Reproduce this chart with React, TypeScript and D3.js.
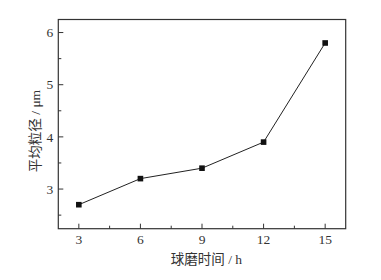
import React from "react";
import * as d3 from "d3";

const hours = [3, 6, 9, 12, 15];
const sizes = [2.7, 3.2, 3.4, 3.9, 5.8];
const xTicks = [3, 6, 9, 12, 15];
const xMinor = [4.5, 7.5, 10.5, 13.5];
const yTicks = [3, 4, 5, 6];
const yMinor = [2.5, 3.5, 4.5, 5.5];

const W = 381, H = 280;
const L = 58.3, T = 19.5, R = 345.7, B = 228.7;
const FONT = "'Liberation Serif', 'Noto Sans CJK SC', serif";

export default function App() {
  const x = d3.scaleLinear().domain([2, 16]).range([L, R]);
  const y = d3.scaleLinear().domain([2.24, 6.25]).range([B, T]);
  const line = d3.line<number>().x((_, i) => x(hours[i])).y((d) => y(d));
  const c = "#333";
  return (
    <svg width={W} height={H} style={{ position: "absolute", left: 0, top: 0, background: "#fff" }}>
      <rect x={L} y={T} width={R - L} height={B - T} fill="none" stroke={c} strokeWidth={1.2} />
      {xTicks.map((t) => (
        <g key={"xt" + t}>
          <line x1={x(t)} x2={x(t)} y1={B} y2={B - 5} stroke={c} strokeWidth={1} />
          <text x={x(t)} y={B + 15} textAnchor="middle" fontFamily={FONT} fontSize={13.5} fill={c}>{t}</text>
        </g>
      ))}
      {xMinor.map((t) => (
        <line key={"xm" + t} x1={x(t)} x2={x(t)} y1={B} y2={B - 3} stroke={c} strokeWidth={1} />
      ))}
      {yTicks.map((t) => (
        <g key={"yt" + t}>
          <line x1={L} x2={L + 5} y1={y(t)} y2={y(t)} stroke={c} strokeWidth={1} />
          <text x={L - 5} y={y(t)} dy="0.35em" textAnchor="end" fontFamily={FONT} fontSize={13.5} fill={c}>{t}</text>
        </g>
      ))}
      {yMinor.map((t) => (
        <line key={"ym" + t} x1={L} x2={L + 3} y1={y(t)} y2={y(t)} stroke={c} strokeWidth={1} />
      ))}
      <path d={line(sizes) || ""} fill="none" stroke="#222" strokeWidth={1} />
      {sizes.map((v, i) => (
        <rect key={"p" + i} x={x(hours[i]) - 2.8} y={y(v) - 2.8} width={5.6} height={5.6} fill="#111" />
      ))}
      <text x={206.5} y={264} textAnchor="middle" fontFamily={FONT} fontSize={13.5} fill={c}>球磨时间 / h</text>
      <text transform={`translate(35,131) rotate(-90)`} textAnchor="middle" dy="0.35em" fontFamily={FONT} fontSize={13.5} fill={c}>平均粒径 / μm</text>
    </svg>
  );
}
